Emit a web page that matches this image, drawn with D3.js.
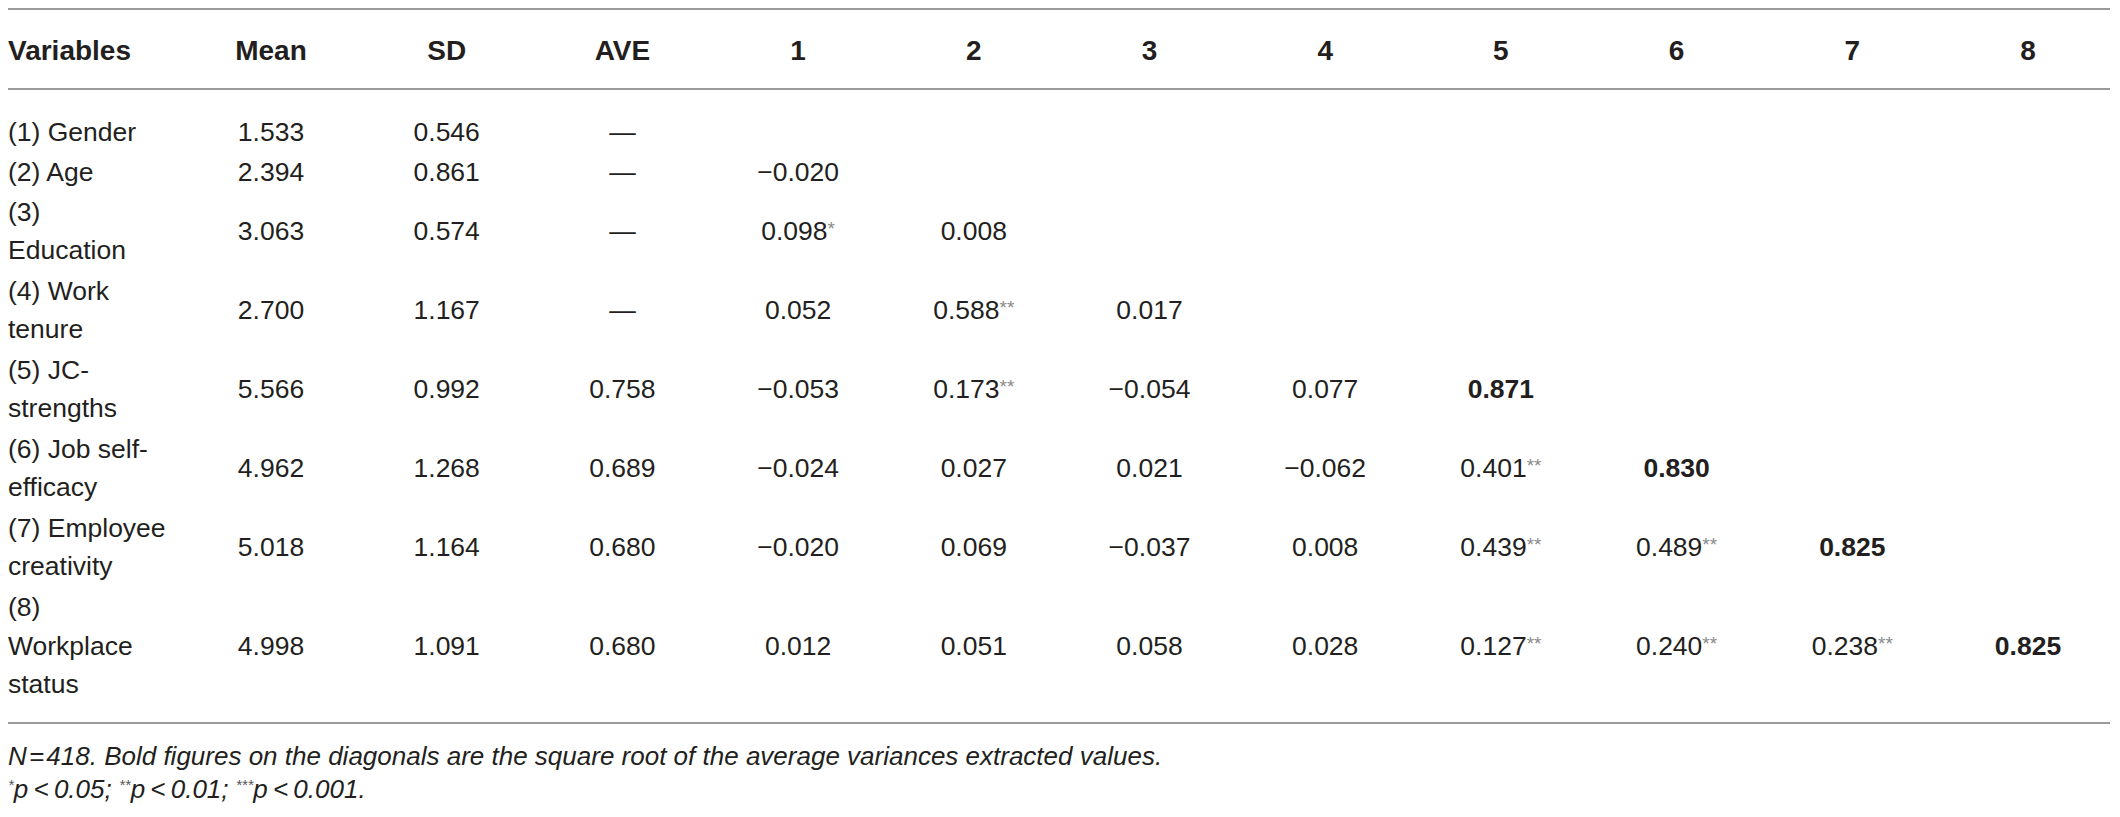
<!DOCTYPE html>
<html>
<head>
<meta charset="utf-8">
<script src="https://cdn.jsdelivr.net/npm/d3@7"></script>
<style>
  body { margin: 0; background: #fff; }
  text { font-family: "Liberation Sans", Arial, Helvetica, sans-serif; fill: #231f20; }
</style>
</head>
<body>
<script>
// table contents
const variables = [
  ["(1) Gender"],
  ["(2) Age"],
  ["(3)", "Education"],
  ["(4) Work", "tenure"],
  ["(5) JC-", "strengths"],
  ["(6) Job self-", "efficacy"],
  ["(7) Employee", "creativity"],
  ["(8)", "Workplace", "status"]
]
const columns = ["Mean", "SD", "AVE", "1", "2", "3", "4", "5", "6", "7", "8"]
const means = [1.533, 2.394, 3.063, 2.700, 5.566, 4.962, 5.018, 4.998]
const sds = [0.546, 0.861, 0.574, 1.167, 0.992, 1.268, 1.164, 1.091]
const aves = [null, null, null, null, 0.758, 0.689, 0.680, 0.680]
// lower triangle, diagonal entries (bold) are sqrt(AVE)
const correlations = [
  [],
  [-0.020],
  [0.098, 0.008],
  [0.052, 0.588, 0.017],
  [-0.053, 0.173, -0.054, 0.077, 0.871],
  [-0.024, 0.027, 0.021, -0.062, 0.401, 0.830],
  [-0.020, 0.069, -0.037, 0.008, 0.439, 0.489, 0.825],
  [0.012, 0.051, 0.058, 0.028, 0.127, 0.240, 0.238, 0.825]
]
const stars = [
  [],
  [""],
  ["*", ""],
  ["", "**", ""],
  ["", "**", "", "", ""],
  ["", "", "", "", "**", ""],
  ["", "", "", "", "**", "**", ""],
  ["", "", "", "", "**", "**", "**", ""]
]
const noteText = "N\u200a=\u200a418. Bold figures on the diagonals are the square root of the average variances extracted values."
const sigNotes = [["*", "p\u2009<\u20090.05; "], ["**", "p\u2009<\u20090.01; "], ["***", "p\u2009<\u20090.001."]]

const width = 2120
const height = 817
const lineH = 39.5
const bodySize = 26.5

const svg = d3.select("body")
  .append("svg")
  .attr("width", width)
  .attr("height", height)

const x = d3.scalePoint()
  .domain(columns)
  .range([271, 2028])

const lineCounts = variables.map(v => v.length)
const rowEnds = Array.from(d3.cumsum(lineCounts))
const y = d3.scaleLinear()
  .domain([0, d3.sum(lineCounts)])
  .range([111.75, 111.75 + lineH * d3.sum(lineCounts)])
const rowBase = (i) => y(rowEnds[i] - lineCounts[i] / 2) + 9.5

const f3 = d3.format(".3f")

// rules
svg.selectAll("line.rule")
  .data([9, 89, 723])
  .join("line")
  .attr("class", "rule")
  .attr("x1", 8)
  .attr("x2", 2110)
  .attr("y1", d => d)
  .attr("y2", d => d)
  .attr("stroke", "#9a9a9a")
  .attr("stroke-width", 2)

// header
svg.append("text")
  .attr("x", 8)
  .attr("y", 60)
  .attr("font-size", 28)
  .attr("font-weight", "bold")
  .text("Variables")

svg.selectAll("text.head")
  .data(columns)
  .join("text")
  .attr("class", "head")
  .attr("x", d => x(d))
  .attr("y", 60)
  .attr("text-anchor", "middle")
  .attr("font-size", 28)
  .attr("font-weight", "bold")
  .text(d => d)

// row labels
variables.forEach((lines, i) => {
  svg.append("text")
    .attr("font-size", bodySize)
    .selectAll("tspan")
    .data(lines)
    .join("tspan")
    .attr("x", 8)
    .attr("y", (d, k) => rowBase(i) + (k - (lines.length - 1) / 2) * 38.5)
    .text(d => d)
})

// cells
const cells = []
variables.forEach((v, i) => {
  cells.push({ row: i, col: "Mean", text: f3(means[i]), sup: "", bold: false })
  cells.push({ row: i, col: "SD", text: f3(sds[i]), sup: "", bold: false })
  cells.push({ row: i, col: "AVE", text: aves[i] == null ? "\u2014" : f3(aves[i]), sup: "", bold: false })
  correlations[i].forEach((r, j) => {
    cells.push({ row: i, col: String(j + 1), text: f3(r), sup: stars[i][j], bold: j === i })
  })
})

const cell = svg.selectAll("text.cell")
  .data(cells)
  .join("text")
  .attr("class", "cell")
  .attr("x", d => x(d.col))
  .attr("y", d => rowBase(d.row))
  .attr("text-anchor", "middle")
  .attr("font-size", bodySize)
  .attr("font-weight", d => d.bold ? "bold" : "normal")

cell.append("tspan").text(d => d.text)
cell.filter(d => d.sup)
  .append("tspan")
  .attr("font-size", 19)
  .attr("dy", -5)
  .style("fill", "#8a8a8a")
  .text(d => d.sup)

// notes
svg.append("text")
  .attr("x", 8)
  .attr("y", 765)
  .attr("font-size", 26)
  .attr("font-style", "italic")
  .text(noteText)

const sig = svg.append("text")
  .attr("x", 8)
  .attr("y", 798)
  .attr("font-size", 26)
  .attr("font-style", "italic")

sigNotes.forEach(([s, t]) => {
  sig.append("tspan").attr("font-size", 15).attr("dy", -8).style("fill", "#555").text(s)
  sig.append("tspan").attr("dy", 8).text(t)
})
</script>
</body>
</html>
